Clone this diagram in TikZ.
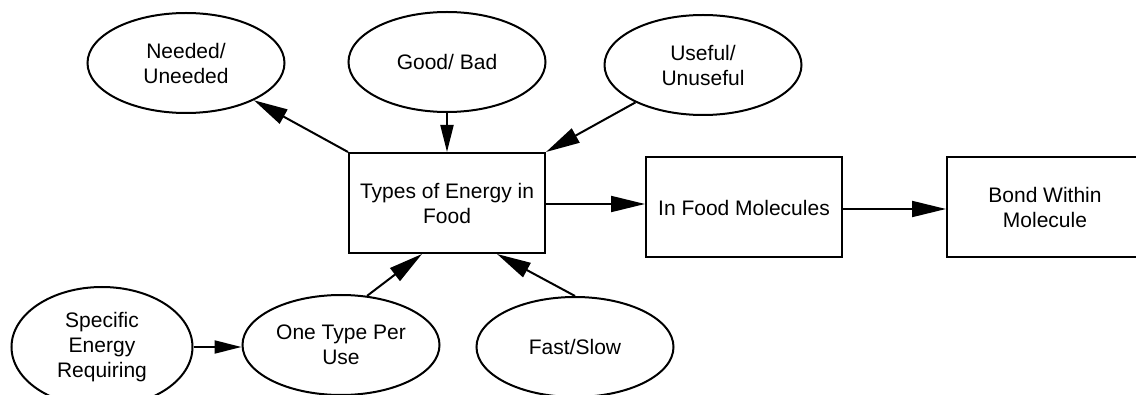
\documentclass[tikz,border=0pt]{standalone}
\usepackage{fontspec}
\setmainfont{Liberation Sans}
\usetikzlibrary{arrows.meta,shapes.geometric}
\begin{document}
\begin{tikzpicture}[x=1pt,y=-1pt,
  every node/.style={font=\fontsize{21}{25}\selectfont, align=center, inner sep=0pt},
  oval/.style={ellipse, draw, line width=2pt, minimum width=197pt, minimum height=100pt},
  box/.style={rectangle, draw, line width=2pt, minimum width=196pt, minimum height=100pt},
  link/.style={line width=2pt, -{Triangle[length=34pt,width=16pt]}},
  shortlink/.style={line width=2pt, -{Triangle[length=27pt,width=13pt]}}]
  \useasboundingbox (0,0) rectangle (1136,395);

  % central box and the chain to the right
  \node[box] (types)  at (447,203)   {Types of Energy in\\Food};
  \node[box] (infood) at (744,207.5) {In Food Molecules};
  \node[box] (bond)   at (1045,207.5){Bond Within\\Molecule};

  % surrounding ovals
  \node[oval] (needed)   at (186,63)  {Needed/\\Uneeded};
  \node[oval] (good)     at (447,62)  {Good/ Bad};
  \node[oval] (useful)   at (703,65)  {Useful/\\Unuseful};
  \node[oval, minimum width=181pt, minimum height=120pt] (specific) at (102,347) {Specific\\Energy\\Requiring};
  \node[oval] (onetype)  at (341,345) {One Type Per\\Use};
  \node[oval] (fast)     at (575,347) {Fast/Slow};

  % connectors
  \draw[link] (types.north west) -- (needed);
  \draw[shortlink] (good.south) -- (types.north);
  \draw[link] (useful) -- (types.north east);
  \draw[link] (types.east |- 0,204) -- (infood.west |- 0,204);
  \draw[link] (infood.east |- 0,209) -- (bond.west |- 0,209);
  \draw[shortlink] (specific.east) -- (onetype.west |- specific.east);
  \draw[link] (onetype.62) -- ([xshift=-25pt]types.south);
  \draw[link] (fast.north) -- ([xshift=50pt]types.south);
\end{tikzpicture}
\end{document}
